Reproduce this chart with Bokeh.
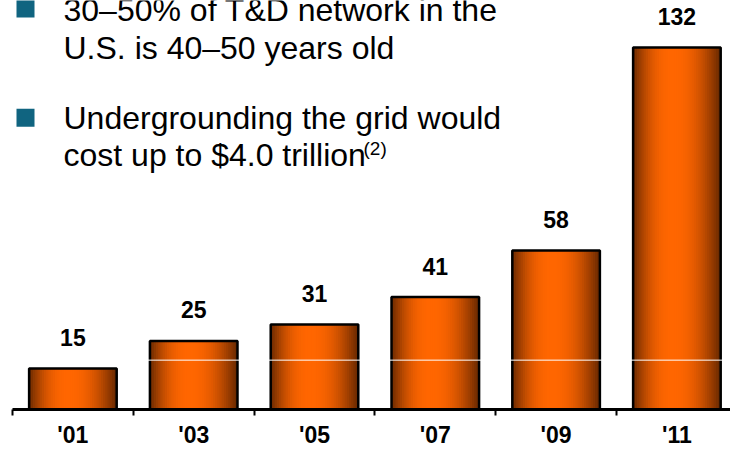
import numpy as np
from bokeh.plotting import figure
from bokeh.models import Range1d, FixedTicker, Span, Label, ColumnDataSource
from bokeh.core.properties import value
from bokeh.embed import file_html
from bokeh.resources import INLINE

# ---- data ----
years = ["'01", "'03", "'05", "'07", "'09", "'11"]
counts = [15, 25, 31, 41, 58, 132]
bullet1 = ["30\u201350% of T&D network in the", "U.S. is 40\u201350 years old"]
bullet2 = ["Undergrounding the grid would", "cost up to $4.0 trillion"]
footnote = "(2)"

# ---- layout constants (canvas pixels) ----
FONT = "Liberation Sans"
FRAME_TOP = 0.0
FRAME_BOT = 409.5
PX_X = 120.8
FRAME_LEFT = 12.0
FRAME_W = 730.0 - FRAME_LEFT
PX_Y = 2.745
Y_END = (FRAME_BOT - FRAME_TOP) / PX_Y

def dx(px):
    return (px - FRAME_LEFT) / PX_X

def dy(py):
    return (FRAME_BOT - py) / PX_Y

p = figure(width=730, height=450, x_range=Range1d(0, FRAME_W / PX_X),
           y_range=Range1d(0, Y_END), output_backend="svg",
           toolbar_location=None, y_axis_location=None,
           min_border_left=int(FRAME_LEFT), min_border_right=0, min_border_top=0,
           min_border_bottom=0, background_fill_color="white",
           border_fill_color="white", outline_line_color=None)
p.xgrid.visible = False
p.ygrid.visible = False

centers = [i + 0.5 for i in range(len(years))]
bar_w = 0.725

# gradient bars built from thin strips
N = 40
dark = np.array([104, 40, 0])
bright = np.array([255, 102, 0])
peak = 0.45
xs, tops, cols = [], [], []
for c, v in zip(centers, counts):
    for k in range(N):
        t = (k + 0.5) / N
        d = (peak - t) / peak if t < peak else (t - peak) / (1 - peak)
        f = np.cos(np.pi / 2 * min(d, 1.0) ** 1.2)
        rgb = dark + (bright - dark) * f
        xs.append(c - bar_w / 2 + t * bar_w)
        tops.append(v)
        cols.append("#%02x%02x%02x" % tuple(int(round(x)) for x in rgb))
strip_src = ColumnDataSource(dict(x=xs, top=tops, color=cols))
p.vbar(x="x", top="top", bottom=0, width=bar_w / N * 1.4, source=strip_src,
       fill_color="color", line_color=None)

src = ColumnDataSource(dict(x=centers, top=counts, label=[str(v) for v in counts]))
p.vbar(x="x", top="top", bottom=0, width=bar_w, source=src,
       fill_color=None, line_color="black", line_width=2.5)

p.add_layout(Span(location=18, dimension="width", line_color="white", line_width=1))

p.text(x="x", y="top", text="label", source=src, text_align="center",
       text_baseline="alphabetic", y_offset=-31, text_font=value(FONT),
       text_font_style="bold", text_font_size="23px", text_color="black")

# axis
ax = p.xaxis[0]
ax.ticker = FixedTicker(ticks=centers, minor_ticks=list(range(len(years) + 1)))
ax.major_label_overrides = {c: y for c, y in zip(centers, years)}
ax.axis_line_width = 3
ax.axis_line_color = "black"
ax.major_tick_out = 0
ax.major_tick_in = 0
ax.minor_tick_in = 0
ax.minor_tick_out = 6
ax.minor_tick_line_width = 2
ax.minor_tick_line_color = "black"
ax.major_label_standoff = 6
ax.major_label_text_font = FONT
ax.major_label_text_font_style = "bold"
ax.major_label_text_font_size = "23px"
ax.major_label_text_color = "black"

# bullets
for cy in (8.0, 117.5):
    p.rect(x=dx(25), y=dy(cy), width=18, height=18, width_units="screen",
           height_units="screen", fill_color="#106480", line_color=None)

for txt, by in zip(bullet1 + bullet2, (10, 48, 118, 155)):
    p.add_layout(Label(x=dx(63), y=dy(by), text=txt, text_font=FONT,
                       text_font_size="32px", text_color="black",
                       text_baseline="alphabetic"))
p.add_layout(Label(x=dx(363), y=dy(148), text=footnote, text_font=FONT,
                   text_font_size="19px", text_color="black",
                   text_baseline="alphabetic"))

open("out.html", "w").write(file_html(p, INLINE))
